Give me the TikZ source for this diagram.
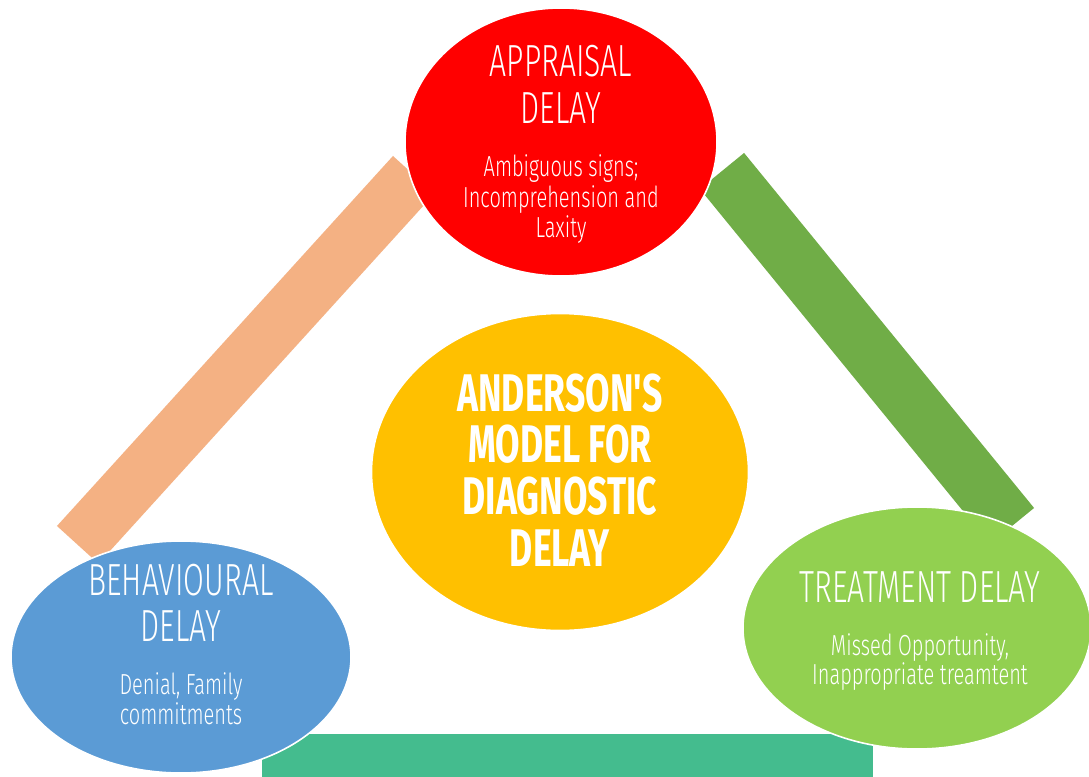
\documentclass[tikz,border=0pt]{standalone}
\usepackage{fontspec}
\usetikzlibrary{shapes.geometric}
\newfontfamily\titlefont{Fira Sans Light}[FakeStretch=0.67]
\newfontfamily\subfont{Fira Sans Light}[FakeStretch=0.69]
\newfontfamily\mainbold{Fira Sans Bold}[FakeStretch=0.67]
\definecolor{cred}{HTML}{FF0000}
\definecolor{cpeach}{HTML}{F4B183}
\definecolor{cgreenbar}{HTML}{70AD47}
\definecolor{clgreen}{HTML}{92D050}
\definecolor{cblue}{HTML}{5B9BD5}
\definecolor{cyellow}{HTML}{FFC000}
\definecolor{cteal}{HTML}{44BC8E}
\tikzset{
  blob/.style={ellipse, draw=white, line width=1.6pt, inner sep=0pt},
  bar/.style={line width=#1, line cap=butt},
  ttl/.style={text=white, anchor=base, inner sep=0pt, font=\titlefont\fontsize{45}{46}\selectfont},
  sub/.style={text=white, anchor=base, inner sep=0pt, font=\subfont\fontsize{29}{30}\selectfont},
  big/.style={text=white, anchor=base, inner sep=0pt, font=\mainbold\fontsize{53}{54}\selectfont},
}
\begin{document}
\begin{tikzpicture}[x=1pt,y=-1pt]
\useasboundingbox[fill=white] (0,0) rectangle (1089,776);
% connector bars
\coordinate (pa) at (77.7,544.8);
\coordinate (pb) at (413.7,174.8);
\coordinate (ga) at (722,171);
\coordinate (gb) at (1012,526);
\draw[bar=56pt, cpeach] (pa) -- (pb);
\draw[bar=57pt, cgreenbar] (ga) -- (gb);
\fill[cteal] (262,734) rectangle (873,780);
% ellipses
\node[blob, fill=cred, minimum width=312pt, minimum height=268pt] (appr) at (561,142) {};
\node[blob, fill=cblue, minimum width=340pt, minimum height=232pt] (behav) at (181,657) {};
\node[blob, fill=clgreen, minimum width=348pt, minimum height=242pt] (treat) at (917,628) {};
\node[blob, fill=cyellow, minimum width=377pt, minimum height=317pt] (model) at (560,472) {};
% texts
\node[ttl] (a1) at (561,77) {APPRAISAL};
\node[ttl] (a2) at (561,123) {DELAY};
\node[sub] (a3) at (561,176) {Ambiguous signs;};
\node[sub] (a4) at (561,207) {Incomprehension and};
\node[sub] (a5) at (561,237) {Laxity};
\node[ttl] (b1) at (181,595) {BEHAVIOURAL};
\node[ttl] (b2) at (181,641.7) {DELAY};
\node[sub] (b3) at (181,694) {Denial, Family};
\node[sub] (b4) at (181,724) {commitments};
\node[ttl] (t1) at (920,602.7) {TREATMENT DELAY};
\node[sub] (t2) at (920,655) {Missed Opportunity,};
\node[sub] (t3) at (920,684) {Inappropriate treamtent};
\node[big] (m1) at (560,411.7) {ANDERSON'S};
\node[big] (m2) at (560,462.7) {MODEL FOR};
\node[big] (m3) at (560,514) {DIAGNOSTIC};
\node[big] (m4) at (560,566.7) {DELAY};
\end{tikzpicture}
\end{document}
